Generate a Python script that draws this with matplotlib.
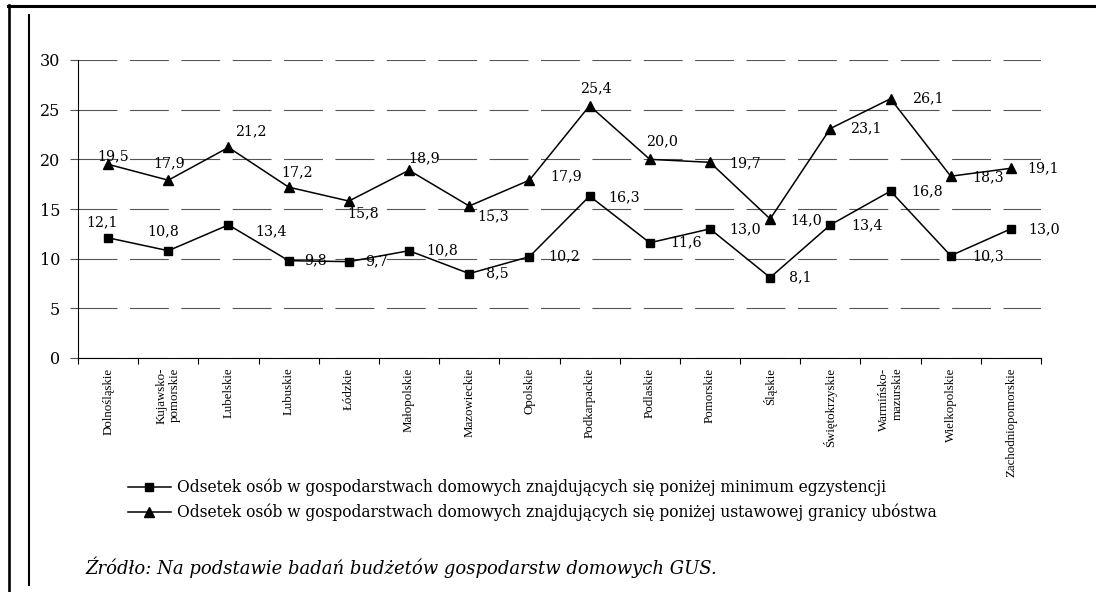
import numpy as np
import matplotlib.pyplot as plt
from matplotlib.lines import Line2D

plt.rcParams['lines.scale_dashes'] = False

### data ###
regions = ['Dolnośląskie', 'Kujawsko-\npomorskie', 'Lubelskie', 'Lubuskie', 'Łódzkie',
           'Małopolskie', 'Mazowieckie', 'Opolskie', 'Podkarpackie', 'Podlaskie',
           'Pomorskie', 'Śląskie', 'Świętokrzyskie', 'Warmińsko-\nmazurskie',
           'Wielkopolskie', 'Zachodniopomorskie']
minimum = [12.1, 10.8, 13.4, 9.8, 9.7, 10.8, 8.5, 10.2, 16.3, 11.6, 13.0, 8.1, 13.4, 16.8, 10.3, 13.0]
ubostwo = [19.5, 17.9, 21.2, 17.2, 15.8, 18.9, 15.3, 17.9, 25.4, 20.0, 19.7, 14.0, 23.1, 26.1, 18.3, 19.1]

label_min = 'Odsetek osób w gospodarstwach domowych znajdujących się poniżej minimum egzystencji'
label_ub = 'Odsetek osób w gospodarstwach domowych znajdujących się poniżej ustawowej granicy ubóstwa'
source = 'Źródło: Na podstawie badań budżetów gospodarstw domowych GUS.'

# label offsets (pixels) for value labels
off_min = [(-6, 16), (-5, 19), (43, -6), (27, 0), (28, 0), (33, 0), (28, 0), (35, 0),
           (35, -1), (36, 0), (35, 0), (30, 0), (37, 0), (37, 0), (37, -1), (33, 0)]
off_ub = [(5, 8), (1, 17), (22, 16), (8, 15), (14, -12), (15, 12), (24, -10), (37, 4),
          (6, 17), (12, 18), (35, -1), (36, -1), (35, 0), (37, 0), (37, -1), (32, 0)]

W, H = 1096, 592
fig = plt.figure(figsize=(W / 100, H / 100), dpi=100)
ax = fig.add_axes([78 / W, 1 - 358 / H, (1041 - 78) / W, (358 - 60) / H])

x = np.arange(len(regions))
l1, = ax.plot(x, minimum, color='black', lw=1.1, marker='s', ms=5.5, zorder=3)
l2, = ax.plot(x, ubostwo, color='black', lw=1.1, marker='^', ms=7.5, zorder=3)

for xi, v, (dx, dy) in zip(x, minimum, off_min):
    ax.annotate(f'{v:.1f}'.replace('.', ','), (xi, v), xytext=(dx, dy),
                textcoords='offset pixels', ha='center', va='center',
                family='DejaVu Serif', fontsize=10.3, zorder=4)
for xi, v, (dx, dy) in zip(x, ubostwo, off_ub):
    ax.annotate(f'{v:.1f}'.replace('.', ','), (xi, v), xytext=(dx, dy),
                textcoords='offset pixels', ha='center', va='center',
                family='DejaVu Serif', fontsize=10.3, zorder=4)

ax.set_xlim(-0.5, len(regions) - 0.5)
ax.set_ylim(0, 30)
ax.set_yticks(range(0, 31, 5))
ax.set_yticklabels([str(t) for t in range(0, 31, 5)], family='DejaVu Serif', fontsize=11.5)
ax.tick_params(axis='y', length=5.8, width=0.8, color='#555555', pad=7)

ax.set_xticks(x)
ax.set_xticklabels(regions, rotation=90, va='top', ha='center', multialignment='right',
                   family='Liberation Serif', fontsize=9.3)
ax.tick_params(axis='x', which='major', length=0, pad=7)
ax.set_xticks(np.arange(-0.5, len(regions), 1), minor=True)
ax.tick_params(axis='x', which='minor', length=4.5, width=0.8, color='black')

ax.yaxis.grid(True, color='#555555', lw=0.8, linestyle=(0, (28, 9)))
ax.set_axisbelow(True)
for s in ['top', 'right']:
    ax.spines[s].set_visible(False)
for s in ['left', 'bottom']:
    ax.spines[s].set_linewidth(0.8)

fig.legend([l1, l2], [label_min, label_ub], loc='upper left',
           bbox_to_anchor=(128 / W, 1 - 479 / H), frameon=False,
           prop={'family': 'DejaVu Serif', 'size': 11.2},
           handlelength=2.75, handletextpad=0.4, labelspacing=0.45,
           borderpad=0, borderaxespad=0)

fig.text(85 / W, 1 - 567 / H, source, style='italic', family='DejaVu Serif',
         fontsize=13, va='center', ha='left')

# page frame lines
fig.add_artist(Line2D([8 / W, 1], [1 - 5.5 / H] * 2, color='black', lw=2.2))
fig.add_artist(Line2D([8.5 / W] * 2, [0, 1 - 5 / H], color='black', lw=1.9))
fig.add_artist(Line2D([29.5 / W] * 2, [1 - 585 / H, 1 - 15 / H], color='black', lw=1.5))

fig.savefig('out.png', dpi=100)
